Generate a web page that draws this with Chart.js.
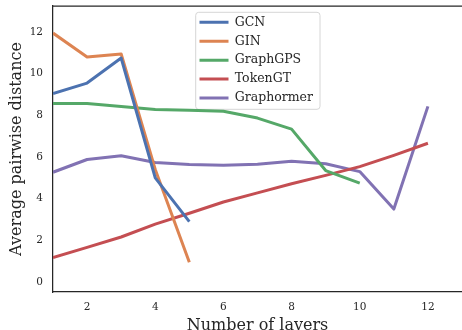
<!DOCTYPE html>
<html>
<head>
<meta charset="utf-8">
<script src="https://cdn.jsdelivr.net/npm/chart.js@4.4.1/dist/chart.umd.min.js"></script>
<style>
  html, body { margin:0; padding:0; background:#fff; overflow:hidden; }
  canvas { display:block; }
</style>
</head>
<body>
<canvas id="graf" width="462" height="330"></canvas>
<script>
const layers = [1,2,3,4,5,6,7,8,9,10,11,12];
const gcn = [9.05,9.55,10.75,5.0,2.9];
const gin = [11.95,10.8,10.95,5.4,0.95];
const graphGPS = [8.57,8.57,8.42,8.28,8.25,8.2,7.87,7.34,5.35,4.75];
const tokenGT = [1.17,1.66,2.16,2.78,3.3,3.84,4.28,4.72,5.12,5.54,6.08,6.66];
const graphormer = [5.27,5.88,6.06,5.74,5.64,5.6,5.65,5.8,5.68,5.3,3.5,8.43];
const seriesNames = ['GCN','GIN','GraphGPS','TokenGT','Graphormer'];
const colores = ['#4c72b0','#dd8452','#55a868','#c44e52','#8172b3'];
const xTicks = [2,4,6,8,10,12];
const yTicks = [0,2,4,6,8,10,12];

const fam = "'DejaVu Serif', serif";
const ink = '#262626';

function puntos(vals){
  return vals.map((v,i)=>({x:layers[i], y:v}));
}

const allSeries = [gcn, gin, graphGPS, tokenGT, graphormer];

// legend box inside the plot + top spine
const framePlugin = {
  id: 'framePlugin',
  afterLayout(chart){
    const lg = chart.legend;
    if(!lg) return;
    lg.left = 193.1; lg.top = 9.7;
    lg.right = lg.left + 130; lg.bottom = lg.top + 250;
    lg.width = 130; lg.height = 250;
  },
  beforeDraw(chart){
    const c = chart.ctx, lg = chart.legend;
    c.save();
    c.fillStyle = 'rgba(255,255,255,0.85)';
    c.strokeStyle = '#d6d6d6';
    c.lineWidth = 1;
    c.beginPath();
    c.roundRect(lg.left + 2.6, lg.top + 2.6, 124.3, 97, 3);
    c.fill(); c.stroke();
    c.restore();
  },
  afterDraw(chart){
    const c = chart.ctx, a = chart.chartArea;
    c.save();
    c.strokeStyle = ink;
    c.lineWidth = 1.25;
    c.beginPath();
    c.moveTo(a.left, a.top); c.lineTo(a.right + 5, a.top);
    c.stroke();
    c.restore();
  }
};

new Chart(document.getElementById('graf'), {
  type: 'line',
  data: {
    datasets: allSeries.map((s,i)=>({
      label: seriesNames[i],
      data: puntos(s),
      borderColor: colores[i],
      backgroundColor: colores[i],
      borderWidth: 3,
      pointRadius: 0,
      tension: 0,
      borderJoinStyle: 'round',
      borderCapStyle: 'butt',
      fill: false
    }))
  },
  options: {
    responsive: false,
    animation: false,
    layout: { autoPadding: false, padding: { top: 6, right: 0, bottom: 0, left: 0 } },
    scales: {
      x: {
        type: 'linear', min: 1, max: 13,
        afterBuildTicks: s => { s.ticks = xTicks.map(v=>({value:v})); },
        afterFit: s => { s.height = 38; s.paddingLeft = 0; s.paddingRight = 0; },
        grid: { display: false, drawTicks: false },
        border: { display: true, color: ink, width: 1.25 },
        ticks: { color: ink, padding: 8.7, font: { family: fam, size: 10.5 } },
        title: { display: true, text: 'Number of layers', color: ink,
                 font: { family: fam, size: 16 }, padding: { top: 0, bottom: -5.6 } }
      },
      y: {
        min: -0.48, max: 13.25,
        afterBuildTicks: s => { s.ticks = yTicks.map(v=>({value:v})); },
        afterFit: s => { s.width = 53; s.paddingTop = 0; s.paddingBottom = 0; },
        grid: { display: false, drawTicks: false },
        border: { display: true, color: ink, width: 1.25 },
        ticks: { color: ink, padding: 10, font: { family: fam, size: 10.5 } },
        title: { display: true, text: 'Average pairwise distance', color: ink,
                 font: { family: fam, size: 16 }, padding: { top: 7, bottom: 0 } }
      }
    },
    plugins: {
      legend: {
        position: 'chartArea',
        align: 'start',
        labels: {
          usePointStyle: true,
          pointStyle: 'line',
          pointStyleWidth: 29,
          padding: 6.4,
          color: ink,
          font: { family: fam, size: 12.5 }
        }
      },
      tooltip: { enabled: false }
    }
  },
  plugins: [framePlugin]
});
</script>
</body>
</html>
